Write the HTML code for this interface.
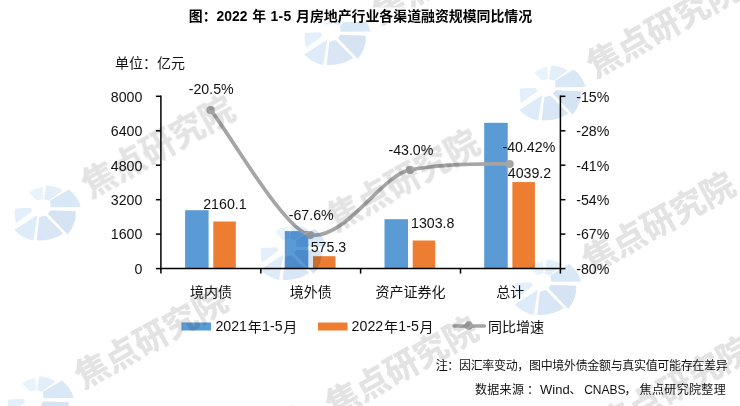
<!DOCTYPE html>
<html lang="zh-CN"><head><meta charset="utf-8"><title>图：2022 年 1-5 月房地产行业各渠道融资规模同比情况</title>
<style>
html,body{margin:0;padding:0;background:#fff;}
body{width:740px;height:406px;overflow:hidden;position:relative;}
svg{position:absolute;left:0;top:0;display:block;}
text{font-family:"Liberation Sans", "Noto Sans CJK SC", sans-serif;fill:#111;}
.t14{font-size:14px;}
.n{font-size:14.2px;}
.wm{font-family:"Liberation Sans","Noto Sans CJK SC",sans-serif;font-weight:700;font-size:33.7px;fill:#e3e3e3;stroke:#e3e3e3;stroke-width:0.4px;}
.note{font-size:12px;}
.title{font-size:13.9px;font-weight:700;fill:#000;}
</style></head><body>
<svg width="740" height="406" viewBox="0 0 740 406">
<rect x="0" y="0" width="740" height="406" fill="#ffffff"/>
<defs><g id="logo">
<path d="M-12,-13.8 Q-6,-18 1.4,-19.2 L2,-6.9 L-4.3,-5.5 Z" fill="#e9f3fc"/>
<path d="M5.2,-20.7 Q14,-20.5 21.5,-15.5 L7.8,-5.2 L3.1,-6.9 Z" fill="#e2eefa"/>
<path d="M9,-5.2 L27.6,-16.4 Q36.5,-10 39.7,0.9 L9.5,1.2 Z" fill="#d9e8f7"/>
<path d="M9.5,4.3 L34.8,5.2 Q35.5,18 26.7,28.4 L6.9,7.8 Z" fill="#d5e3f3"/>
<path d="M-1.7,11.2 L-4.3,34.5 Q10,35.5 22.4,27.6 L4.3,9.5 Z" fill="#d9e6f5"/>
<path d="M-4.3,9.5 L-26.7,24.1 Q-19,32.5 -7.8,34.5 L-3.8,10.3 Z" fill="#deebf9"/>
<path d="M-25.9,2.6 L-10.3,1.7 L-8.6,5.2 L-25,17.2 Q-27,9 -25.9,2.6 Z" fill="#e3effb"/>
</g></defs>
<text class="title" y="20.6"><tspan x="188.8">图：</tspan><tspan x="216.6">2022 </tspan><tspan x="252.2">年 </tspan><tspan x="270.4" style="letter-spacing:0.4px">1-5 </tspan><tspan x="296">月房地产行业各渠道融资规模同比情况</tspan></text>
<text class="t14" x="115" y="67.9">单位：亿元</text>
<rect x="185.1" y="210.2" width="23.5" height="58.4" fill="#5b9bd5"/>
<rect x="213.3" y="221.5" width="22.5" height="47.1" fill="#ed7d31"/>
<rect x="284.8" y="231.1" width="23.5" height="37.5" fill="#5b9bd5"/>
<rect x="313.0" y="256.2" width="22.5" height="12.4" fill="#ed7d31"/>
<rect x="384.5" y="219.2" width="23.5" height="49.4" fill="#5b9bd5"/>
<rect x="412.7" y="240.5" width="22.5" height="28.1" fill="#ed7d31"/>
<rect x="484.2" y="122.8" width="23.5" height="145.8" fill="#5b9bd5"/>
<rect x="512.4" y="182.1" width="22.5" height="86.5" fill="#ed7d31"/>
<g stroke="#000" stroke-width="1.5" fill="none">
<path d="M160.9 95.5 V269.4"/>
<path d="M560.4 95.5 V269.4"/>
<path d="M160.2 268.6 H561.1"/>
<path d="M155.9 96.3 H160.9"/>
<path d="M560.4 96.3 H565.4"/>
<path d="M155.9 130.8 H160.9"/>
<path d="M560.4 130.8 H565.4"/>
<path d="M155.9 165.2 H160.9"/>
<path d="M560.4 165.2 H565.4"/>
<path d="M155.9 199.7 H160.9"/>
<path d="M560.4 199.7 H565.4"/>
<path d="M155.9 234.1 H160.9"/>
<path d="M560.4 234.1 H565.4"/>
<path d="M155.9 268.6 H160.9"/>
<path d="M560.4 268.6 H565.4"/>
<path d="M160.9 268.6 V273.6"/>
<path d="M260.8 268.6 V273.6"/>
<path d="M360.6 268.6 V273.6"/>
<path d="M460.5 268.6 V273.6"/>
<path d="M560.4 268.6 V273.6"/>
</g>
<text class="n" text-anchor="end" transform="translate(142.4 101.6) scale(1 1.09)">8000</text>
<text class="n" text-anchor="start" transform="translate(576.2 101.6) scale(1 1.09)">-15%</text>
<text class="n" text-anchor="end" transform="translate(142.4 136.1) scale(1 1.09)">6400</text>
<text class="n" text-anchor="start" transform="translate(576.2 136.1) scale(1 1.09)">-28%</text>
<text class="n" text-anchor="end" transform="translate(142.4 170.5) scale(1 1.09)">4800</text>
<text class="n" text-anchor="start" transform="translate(576.2 170.5) scale(1 1.09)">-41%</text>
<text class="n" text-anchor="end" transform="translate(142.4 205.0) scale(1 1.09)">3200</text>
<text class="n" text-anchor="start" transform="translate(576.2 205.0) scale(1 1.09)">-54%</text>
<text class="n" text-anchor="end" transform="translate(142.4 239.4) scale(1 1.09)">1600</text>
<text class="n" text-anchor="start" transform="translate(576.2 239.4) scale(1 1.09)">-67%</text>
<text class="n" text-anchor="end" transform="translate(142.4 273.9) scale(1 1.09)">0</text>
<text class="n" text-anchor="start" transform="translate(576.2 273.9) scale(1 1.09)">-80%</text>
<text class="t14" text-anchor="middle" x="211.1" y="297.2">境内债</text>
<text class="t14" text-anchor="middle" x="310.8" y="297.2">境外债</text>
<text class="t14" text-anchor="middle" x="410.5" y="297.2">资产证券化</text>
<text class="t14" text-anchor="middle" x="510.2" y="297.2">总计</text>
<path d="M210.6 110.0 C230.6 135.0 285.3 232.1 310.3 235.1 C346.3 239.4 381.0 175.4 410.0 169.9 C439.0 164.4 474.7 163.5 509.7 164.0" fill="none" stroke="#a5a5a5" stroke-width="3.7" stroke-linecap="round" stroke-linejoin="round"/>
<circle cx="210.6" cy="110.0" r="4.1" fill="#a5a5a5"/>
<circle cx="310.3" cy="235.1" r="4.1" fill="#a5a5a5"/>
<circle cx="410.0" cy="169.9" r="4.1" fill="#a5a5a5"/>
<circle cx="509.7" cy="164.0" r="4.1" fill="#a5a5a5"/>
<text class="n" text-anchor="start" transform="translate(203.2 209.0) scale(1 1.09)">2160.1</text>
<text class="n" text-anchor="start" transform="translate(310.7 252.3) scale(1 1.09)">575.3</text>
<text class="n" text-anchor="start" transform="translate(411.0 228.0) scale(1 1.09)">1303.8</text>
<text class="n" text-anchor="start" transform="translate(507.8 178.4) scale(1 1.09)">4039.2</text>
<text class="n" text-anchor="start" transform="translate(188.7 94.0) scale(1 1.09)">-20.5%</text>
<text class="n" text-anchor="start" transform="translate(288.7 220.0) scale(1 1.09)">-67.6%</text>
<text class="n" text-anchor="start" transform="translate(388.4 155.0) scale(1 1.09)">-43.0%</text>
<text class="n" text-anchor="start" transform="translate(502.4 151.5) scale(1 1.09)">-40.42%</text>
<rect x="181.5" y="322.5" width="29.5" height="8" fill="#5b9bd5"/>
<text class="n" text-anchor="start" transform="translate(215.4 330.8) scale(1 1.09)">2021</text>
<text class="n" text-anchor="start" transform="translate(262.1 330.8) scale(1 1.09)">1-5</text>
<text class="t14" y="331.7"><tspan x="247.7">年</tspan><tspan x="283.3">月</tspan></text>
<rect x="318" y="322.5" width="29.5" height="8" fill="#ed7d31"/>
<text class="n" text-anchor="start" transform="translate(351.6 330.8) scale(1 1.09)">2022</text>
<text class="n" text-anchor="start" transform="translate(398.3 330.8) scale(1 1.09)">1-5</text>
<text class="t14" y="331.7"><tspan x="383.9">年</tspan><tspan x="419.5">月</tspan></text>
<path d="M454.2 326 H484.4" stroke="#a5a5a5" stroke-width="3.5" stroke-linecap="round"/>
<circle cx="468.7" cy="325.5" r="4.3" fill="#a5a5a5"/>
<text class="t14" x="488" y="331.7">同比增速</text>
<text class="note" text-anchor="end" x="727.4" y="370" style="letter-spacing:-0.33px">注：因汇率变动，图中境外债金额与真实值可能存在差异</text>
<text class="note" y="394" style="letter-spacing:0.3px"><tspan x="475">数据来源</tspan><tspan x="526.9">：</tspan><tspan x="540" style="letter-spacing:0;font-size:13px">Wind</tspan><tspan x="569.6">、</tspan><tspan x="584.2" style="letter-spacing:0">CNABS</tspan><tspan x="624.5">，</tspan><tspan x="639.6" style="letter-spacing:0.35px">焦点研究院整理</tspan></text>
<clipPath id="wmclip"><rect x="0" y="0" width="740" height="7.5"/><rect x="0" y="22" width="740" height="384"/><rect x="0" y="7" width="188" height="16"/><rect x="534" y="7" width="206" height="16"/></clipPath>
<g style="mix-blend-mode:multiply" clip-path="url(#wmclip)">
<use href="#logo" x="41.0" y="206.0"/>
<text class="wm" transform="translate(41.0 206.0) rotate(-29)" x="46.7" y="17">焦点研究院</text>
<use href="#logo" x="331.0" y="30.5"/>
<text class="wm" transform="translate(331.0 32.5) rotate(-29)" x="46.7" y="17">焦点研究院</text>
<use href="#logo" x="546.0" y="86.0"/>
<text class="wm" transform="translate(546.0 86.0) rotate(-29)" x="46.7" y="17">焦点研究院</text>
<use href="#logo" x="287.0" y="245.5"/>
<text class="wm" transform="translate(286.0 239.5) rotate(-29)" x="46.7" y="17">焦点研究院</text>
<use href="#logo" x="541.5" y="280.5"/>
<text class="wm" transform="translate(541.5 281.5) rotate(-29)" x="46.7" y="17">焦点研究院</text>
<use href="#logo" x="34.0" y="397.0"/>
<text class="wm" transform="translate(34.0 397.0) rotate(-29)" x="46.7" y="17">焦点研究院</text>
<use href="#logo" x="284.6" y="426.0"/>
<text class="wm" transform="translate(284.6 426.0) rotate(-29)" x="46.7" y="17">焦点研究院</text>
<use href="#logo" x="558.0" y="446.0"/>
<text class="wm" transform="translate(558.0 446.0) rotate(-29)" x="46.7" y="17">焦点研究院</text>
</g>
</svg></body></html>
